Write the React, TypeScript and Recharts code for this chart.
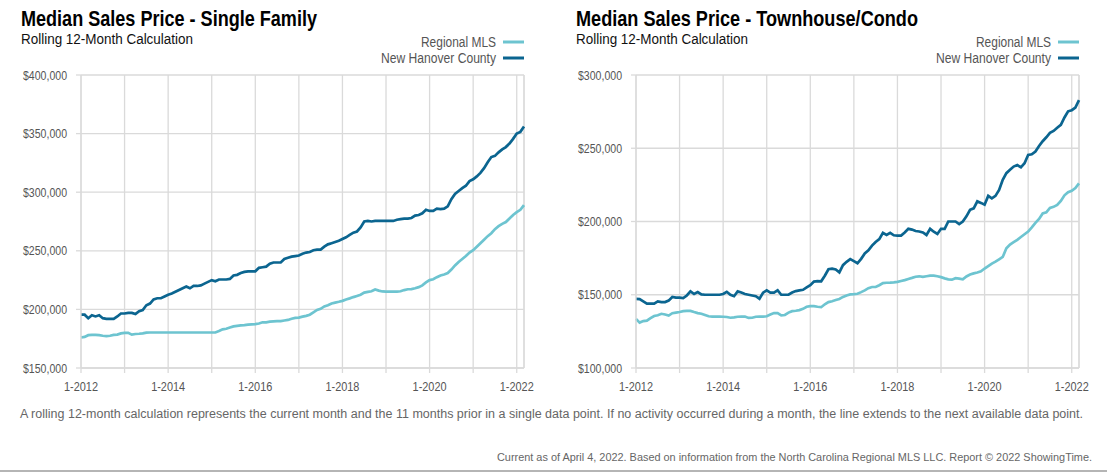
import React from 'react';
import { LineChart, Line, XAxis, YAxis, CartesianGrid, ReferenceLine } from 'recharts';

// month index 0 = 1-2012, last point = 3-2022
const MONTHS = Array.from({ length: 123 }, (_, i) => i);
const YEAR_TICKS = [0, 12, 24, 36, 48, 60, 72, 84, 96, 108, 120];
const YEAR_LABELS = ['1-2012', '', '1-2014', '', '1-2016', '', '1-2018', '', '1-2020', '', '1-2022'];

// values in $ thousands
const sfRegional = [
  176, 176.5, 178, 178.3, 178.3, 178, 177.5, 177.2, 177.5, 178.2, 178.5, 179.5,
  180, 180, 178.5, 179, 179.2, 179.5, 180.2, 180.3, 180.3, 180.3, 180.3, 180.3,
  180.3, 180.3, 180.3, 180.3, 180.3, 180.3, 180.3, 180.3, 180.3, 180.3, 180.3, 180.3,
  180.3, 180.3, 181.5, 183, 183.5, 184.5, 185.5, 186, 186.3, 186.6, 187, 187.3,
  187.5, 188, 189, 189, 189.5, 189.8, 190, 190, 190.5, 191, 192, 192.8,
  193, 193.8, 194.5, 195.5, 197.5, 199.5, 200.5, 202.5, 203.5, 205, 205.8, 206.5,
  207.3, 208.5, 209.4, 210.5, 211.5, 212.5, 214.3, 215, 215.5, 217, 216, 215.3,
  215.1, 215.1, 215.1, 215.1, 215.5, 216.5, 217.2, 217.3, 218, 219, 220.5, 223,
  225, 225.7, 227.5, 229, 229.8, 231, 234, 237.5, 240.5, 243, 245.5, 248.5,
  250.5, 253.5, 256.5, 259.5, 262.5, 265, 268.5, 271, 273, 274.5, 277.5, 280.5,
  283, 285, 289,
];
const sfCounty = [
  195.5, 195.5, 192.5, 195, 194, 195, 192.5, 192, 192, 192, 194, 196.5,
  196.5, 197, 197, 196, 198.5, 199.5, 203.5, 205, 208.5, 209.5, 209.5, 211,
  212.5, 213.5, 215, 216.5, 218, 219.5, 218, 220, 220, 220.5, 222, 223.5,
  225, 224, 225.5, 225.5, 225.5, 226, 229, 229.5, 231, 232, 232.5, 232.5,
  232.5, 235.5, 236, 236.5, 239, 240, 240, 240, 243, 244, 245, 245.5,
  246, 247.5, 248.5, 249, 250.5, 251, 251, 253.5, 255.5, 256.5, 257.5, 258.5,
  260, 261.5, 263.5, 265.5, 266.5, 270, 275, 275.5, 275, 275.5, 275.5, 275.5,
  275.5, 275.5, 275.5, 276.5, 277, 277.5, 277.5, 278, 280, 280.5, 282, 285,
  284, 284, 286, 285.5, 286, 288, 294, 298.5, 301, 303.5, 305.5, 309.5,
  311, 313.5, 316.5, 320.5, 325.5, 330, 331, 334, 336.5, 338.5, 341.5, 345.5,
  350, 351.5, 356,
];
const tcRegional = [
  133.5, 131, 132, 132.3, 134, 135.5, 136, 137, 136.5, 135.8, 137.4, 137.8,
  138.2, 138.8, 139, 139, 138.2, 137.5, 137, 136.2, 135.3, 135.1, 135.1, 135.1,
  135, 134.8, 134.3, 134.6, 135, 135.1, 135.1, 134.2, 134.3, 135, 135.1, 135.1,
  135.3, 136.5, 137.5, 137.5, 135.9, 136.2, 137.8, 138.8, 139.1, 139.5, 140.4, 141.8,
  142.2, 142.2, 141.8, 141.5, 143.5, 145, 145.6, 146.4, 147.1, 148.5, 149.5, 150.2,
  150.4, 150.7, 151.8, 153, 154.5, 155.3, 155.3, 156.5, 158, 158.2, 158.3, 158.5,
  158.8, 159.4, 160, 160.8, 161.5, 162.3, 162.6, 162.2, 162.6, 163, 163.1, 162.6,
  162, 161.2, 160.5, 160.3, 161.3, 161, 160.5, 162.5, 163.8, 164.6, 165.2, 166,
  167.9, 169.6, 171.3, 172.6, 174.2, 175.8, 181.7, 184.3, 185.9, 187.5, 189.4, 191.3,
  193.1, 196, 199.1, 201.7, 205.5, 206.2, 209.3, 210, 211.3, 214, 217.9, 220,
  221, 222.8, 226,
];
const tcCounty = [
  147.2, 147, 145.5, 144, 144, 144, 145.5, 145, 145, 146, 148.5, 148,
  148, 147.7, 149.5, 152.3, 150.5, 151.8, 150.2, 150, 150, 150, 150, 150,
  150.5, 152, 150, 149, 152.3, 151.5, 150.5, 150, 149.5, 149, 147.3, 151.4,
  153, 151.5, 151.5, 153, 150, 150, 150, 151.5, 152.5, 153, 153.4, 155,
  156.5, 159, 159.3, 159.2, 163, 167.4, 167.8, 167.2, 165.3, 170.2, 172.5, 174.3,
  173, 171.5, 174.5, 178.2, 180.3, 183.5, 186, 188, 192.2, 190.8, 192.3, 190.6,
  190.4, 190.4, 192.5, 195, 194.5, 193.5, 193.2, 192.5, 190.8, 195, 193, 191.5,
  195, 195, 200, 200, 200, 198.3, 200, 203.5, 208, 209, 213.8, 212.7,
  211.5, 217.5, 215.8, 217.5, 221.5, 228.5, 233, 235.3, 237.5, 238.5, 237, 239.8,
  245.5, 245.9, 247.8, 251.5, 254.8, 257.5, 260.5, 261.8, 264, 266, 271, 275.2,
  276, 277.8, 282.8,
];

const SF_TICKS = [150, 200, 250, 300, 350, 400];
const TC_TICKS = [100, 150, 200, 250, 300];

const LIGHT = '#6dc4d0';
const DARK = '#0b6590';
const GRID = '#dadada';
const FONT = "'Liberation Sans', Arial, sans-serif";

const money = (v: number) => '$' + (v * 1000).toLocaleString('en-US');

// the original uses a condensed face, so squeeze the text to its measured width
const YTick = (props: any) => (
  <text x={props.x} y={props.y} dy="0.36em" textAnchor="end" fontFamily={FONT} fontSize={12.5} fill="#555"
    textLength={44} lengthAdjust="spacingAndGlyphs">
    {money(props.payload.value)}
  </text>
);

const XTick = (props: any) => {
  const label = YEAR_LABELS[YEAR_TICKS.indexOf(props.payload.value)];
  if (!label) return null;
  return (
    <text x={props.x} y={props.y} dy="0.71em" textAnchor="middle" fontFamily={FONT} fontSize={12.5} fill="#555"
      textLength={34} lengthAdjust="spacingAndGlyphs">
      {label}
    </text>
  );
};

const PriceChart = ({ regional, county, ticks, left }: { regional: number[]; county: number[]; ticks: number[]; left: number }) => {
  const data = MONTHS.map((m, i) => ({ m, regional: regional[i], county: county[i] }));
  return (
    <div style={{ position: 'absolute', left, top: 0 }}>
      <LineChart width={540} height={400} data={data} margin={{ top: 75, right: 16, bottom: 2, left: 11 }}>
        <CartesianGrid stroke={GRID} strokeWidth={1.3} />
        <XAxis
          type="number"
          dataKey="m"
          domain={[0, 122]}
          ticks={YEAR_TICKS}
          interval={0}
          height={30}
          tickSize={5}
          tickMargin={9}
          stroke={GRID}
          strokeWidth={1.3}
          tick={<XTick />}
        />
        <YAxis
          domain={[ticks[0], ticks[ticks.length - 1]]}
          ticks={ticks}
          interval={0}
          width={70}
          tickSize={5}
          tickMargin={9}
          stroke={GRID}
          strokeWidth={1.3}
          tick={<YTick />}
        />
        <ReferenceLine x={122} stroke={GRID} strokeWidth={1.3} />
        <Line dataKey="regional" stroke={LIGHT} strokeWidth={2.7} dot={false} isAnimationActive={false} />
        <Line dataKey="county" stroke={DARK} strokeWidth={2.7} dot={false} isAnimationActive={false} />
      </LineChart>
    </div>
  );
};

const Heading = ({ x, title, titleWidth, legendEnd }: { x: number; title: string; titleWidth: number; legendEnd: number }) => (
  <g fontFamily={FONT}>
    <text x={x} y={26} fontSize={22} fontWeight="bold" fill="#000" textLength={titleWidth} lengthAdjust="spacingAndGlyphs">{title}</text>
    <text x={x} y={43.5} fontSize={14} fill="#111" textLength={172} lengthAdjust="spacingAndGlyphs">Rolling 12-Month Calculation</text>
    <text x={legendEnd - 28} y={47} fontSize={14} fill="#555" textAnchor="end" textLength={75} lengthAdjust="spacingAndGlyphs">Regional MLS</text>
    <line x1={legendEnd - 21} x2={legendEnd} y1={42} y2={42} stroke={LIGHT} strokeWidth={3} />
    <text x={legendEnd - 28} y={63} fontSize={14} fill="#555" textAnchor="end" textLength={115} lengthAdjust="spacingAndGlyphs">New Hanover County</text>
    <line x1={legendEnd - 21} x2={legendEnd} y1={58} y2={58} stroke={DARK} strokeWidth={3} />
  </g>
);

export default function App() {
  return (
    <div style={{ position: 'absolute', left: 0, top: 0, width: 1107, height: 472, background: '#fff', overflow: 'hidden' }}>
      <PriceChart regional={sfRegional} county={sfCounty} ticks={SF_TICKS} left={0} />
      <PriceChart regional={tcRegional} county={tcCounty} ticks={TC_TICKS} left={555} />
      <svg width={1107} height={472} style={{ position: 'absolute', left: 0, top: 0, pointerEvents: 'none' }}>
        <Heading x={21} title="Median Sales Price - Single Family" titleWidth={296} legendEnd={524} />
        <Heading x={576} title="Median Sales Price - Townhouse/Condo" titleWidth={342} legendEnd={1079} />
        <text x={20} y={417.5} fontFamily={FONT} fontSize={12.5} fill="#666" textLength={1063} lengthAdjust="spacingAndGlyphs">
          A rolling 12-month calculation represents the current month and the 11 months prior in a single data point. If no activity occurred during a month, the line extends to the next available data point.
        </text>
        <text x={497} y={461} fontFamily={FONT} fontSize={11} fill="#666" textLength={595} lengthAdjust="spacingAndGlyphs">
          Current as of April 4, 2022. Based on information from the North Carolina Regional MLS LLC. Report © 2022 ShowingTime.
        </text>
      </svg>
      <div style={{ position: 'absolute', left: 0, top: 470, width: 1107, height: 2, background: '#b5b5b5' }} />
    </div>
  );
}
